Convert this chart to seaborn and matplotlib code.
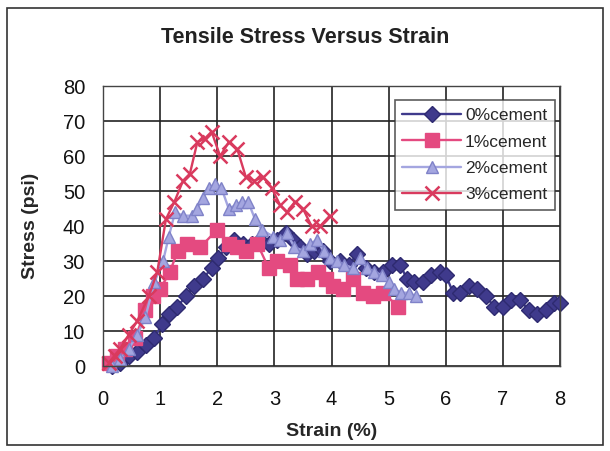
import pandas as pd
import matplotlib.pyplot as plt
import matplotlib.patches as mpatches
import seaborn as sns

# strain (%) and tensile stress (psi)
strain_0 = [0.15, 0.3, 0.45, 0.6, 0.75, 0.9, 1.03, 1.15, 1.3, 1.45, 1.6, 1.75, 1.9, 2.02,
            2.15, 2.3, 2.45, 2.6, 2.75, 2.9, 3.05, 3.2, 3.33, 3.45, 3.57, 3.7, 3.85, 3.97,
            4.15, 4.3, 4.45, 4.6, 4.75, 4.9, 5.05, 5.2, 5.32, 5.45, 5.6, 5.75, 5.9, 6.0,
            6.13, 6.25, 6.4, 6.55, 6.7, 6.85, 7.0, 7.15, 7.3, 7.45, 7.6, 7.75, 7.9, 8.0]
stress_0 = [0, 1, 3, 4, 6, 8, 12, 15, 17, 20, 23, 25, 28, 31,
            34, 36, 35, 35, 36, 35, 36, 38, 36, 34, 32, 33, 33, 30,
            30, 29, 32, 28, 27, 27, 29, 29, 25, 24, 24, 26, 27, 26,
            21, 21, 23, 22, 20, 17, 17, 19, 19, 16, 15, 16, 18, 18]

strain_1 = [0.1, 0.25, 0.38, 0.56, 0.74, 0.88, 1.0, 1.17, 1.31, 1.47, 1.7, 2.0, 2.2, 2.35,
            2.5, 2.7, 2.9, 3.05, 3.27, 3.4, 3.57, 3.76, 3.9, 4.03, 4.2, 4.38, 4.55, 4.73,
            4.9, 5.17]
stress_1 = [1, 3, 5, 8, 16, 20, 22, 27, 33, 35, 34, 39, 35, 34,
            33, 35, 28, 30, 29, 25, 25, 27, 25, 23, 22, 25, 21, 20,
            21, 17]

strain_2 = [0.15, 0.3, 0.45, 0.6, 0.74, 0.9, 1.05, 1.15, 1.26, 1.4, 1.55, 1.65, 1.75, 1.85,
            1.96, 2.07, 2.2, 2.32, 2.43, 2.54, 2.66, 2.78, 2.98, 3.1, 3.22, 3.35, 3.5, 3.62,
            3.74, 3.86, 3.97, 4.1, 4.22, 4.38, 4.5, 4.62, 4.75, 4.88, 5.0, 5.1, 5.22, 5.35,
            5.48]
stress_2 = [0, 2, 5, 9, 14, 24, 30, 37, 44, 43, 43, 45, 48, 51,
            52, 51, 45, 46, 47, 47, 42, 39, 37, 36, 38, 34, 33, 35,
            36, 33, 31, 30, 29, 28, 31, 28, 27, 26, 24, 22, 21, 21,
            20]

strain_3 = [0.1, 0.2, 0.3, 0.45, 0.6, 0.8, 0.95, 1.1, 1.25, 1.4, 1.52, 1.65, 1.78, 1.9,
            2.05, 2.2, 2.35, 2.5, 2.65, 2.8, 2.95, 3.1, 3.22, 3.36, 3.5, 3.65, 3.8, 3.97]
stress_3 = [1, 3, 5, 9, 13, 20, 27, 42, 47, 53, 55, 64, 65, 67,
            60, 64, 62, 54, 53, 54, 51, 46, 44, 47, 45, 40, 40, 43]

labels = ['0%cement', '1%cement', '2%cement', '3%cement']
x_ticks = [0, 1, 2, 3, 4, 5, 6, 7, 8]
y_ticks = [0, 10, 20, 30, 40, 50, 60, 70, 80]

sns.set_style('white')
plt.rcParams['font.family'] = ['Liberation Sans', 'DejaVu Sans']

fig = plt.figure(figsize=(6.1, 4.51), dpi=100)
ax = fig.add_axes([0.169, 0.188, 0.749, 0.621])

# outer border of the chart area
fig.patches.append(mpatches.Rectangle((0.012, 0.013), 0.976, 0.97, transform=fig.transFigure,
                                      fill=False, edgecolor='#333333', linewidth=1.2))

styles = [
    (strain_0, stress_0, 'D', '#3f3a8c', '#2e2a70', 8),
    (strain_1, stress_1, 's', '#e44a80', '#e44a80', 10),
    (strain_2, stress_2, '^', '#a4a6e0', '#7f82c8', 9),
    (strain_3, stress_3, 'x', '#d93a5e', '#d93a5e', 10),
]

for (xs, ys, mk, col, edge, ms), lab in zip(styles, labels):
    df = pd.DataFrame({'Strain': xs, 'Stress': ys})
    sns.lineplot(data=df, x='Strain', y='Stress', ax=ax, sort=False, color=col,
                 marker=mk, markersize=ms, markeredgecolor=edge,
                 markeredgewidth=1.8 if mk == 'x' else 1.0,
                 linewidth=1.7, label=lab, clip_on=False)

ax.set_xlim(0, 8)
ax.set_ylim(0, 80)
ax.set_xticks(x_ticks)
ax.set_yticks(y_ticks)
ax.grid(True, color='#222222', linewidth=1.2)
ax.set_axisbelow(True)
for s in ax.spines.values():
    s.set_color('#444444')
    s.set_linewidth(1.0)
ax.tick_params(axis='both', direction='inout', length=8, width=1.0, color='#333333',
               labelsize=14.5, labelcolor='#111111', pad=9)
ax.tick_params(axis='x', pad=13)

ax.set_xlabel('Strain (%)', fontsize=14, fontweight='bold', labelpad=10)
ax.set_ylabel('Stress (psi)', fontsize=14, fontweight='bold', labelpad=17)
fig.text(0.5, 0.917, 'Tensile Stress Versus Strain', ha='center', va='center',
         fontsize=15.5, fontweight='bold', color='#222222')

leg = ax.legend(loc='upper right', bbox_to_anchor=(0.989, 0.95), fontsize=12.5,
                frameon=True, fancybox=False, edgecolor='#333333', handlelength=3.4,
                handletextpad=0.2, borderpad=0.45, labelspacing=0.65, borderaxespad=0)
leg.get_frame().set_linewidth(1.2)

fig.savefig('out.png', dpi=100)
